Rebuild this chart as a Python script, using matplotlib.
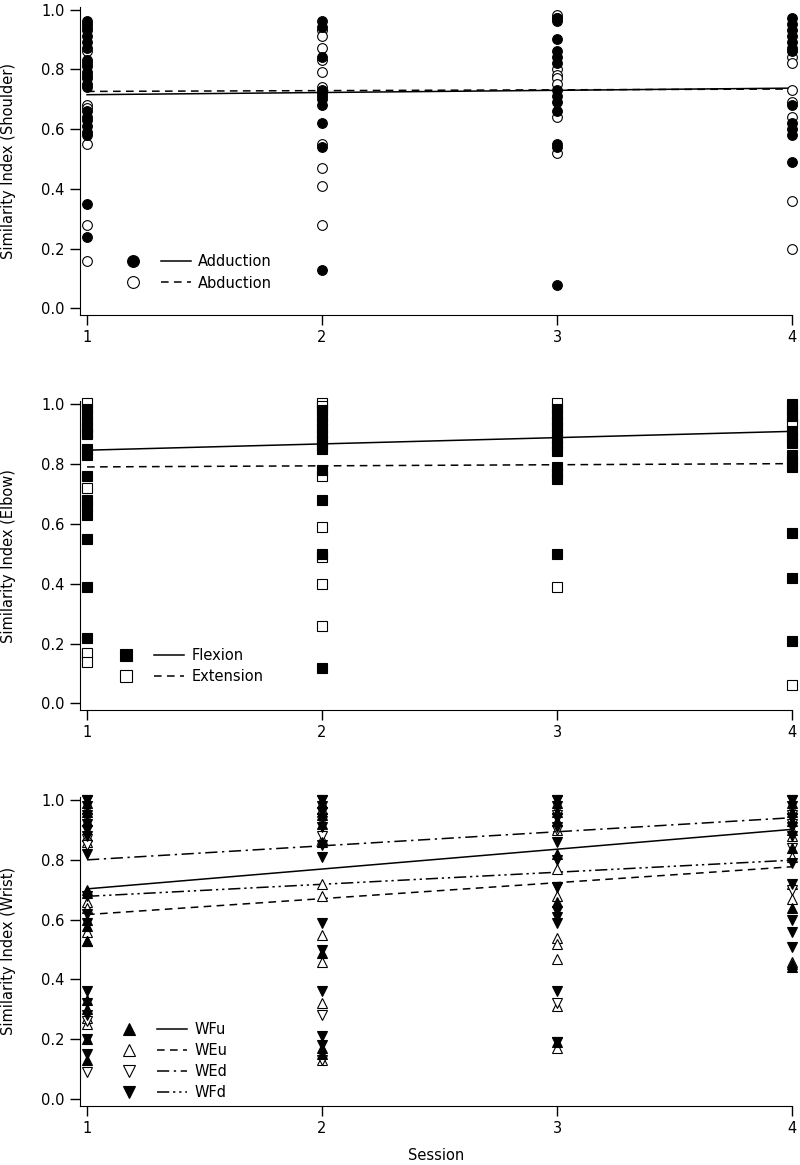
import matplotlib
matplotlib.use("Agg")
import matplotlib.pyplot as plt
from matplotlib.lines import Line2D
from matplotlib.legend_handler import HandlerTuple

plt.rcParams['font.family'] = ['DejaVu Sans']
plt.rcParams['font.size'] = 10

sessions = [1, 2, 3, 4]
fit_x = [1, 4]

# shoulder, one list per session
adduction = [
    [0.96, 0.95, 0.93, 0.91, 0.89, 0.87, 0.83, 0.81, 0.79, 0.77, 0.75, 0.74,
     0.66, 0.64, 0.63, 0.61, 0.59, 0.58, 0.35, 0.24],
    [0.96, 0.94, 0.84, 0.73, 0.72, 0.71, 0.70, 0.68, 0.62, 0.54, 0.13],
    [0.97, 0.96, 0.90, 0.86, 0.84, 0.82, 0.73, 0.71, 0.69, 0.66, 0.55, 0.54, 0.08],
    [0.97, 0.95, 0.93, 0.91, 0.89, 0.87, 0.86, 0.68, 0.62, 0.60, 0.58, 0.49],
]
abduction = [
    [0.94, 0.86, 0.82, 0.78, 0.68, 0.67, 0.55, 0.28, 0.16],
    [0.93, 0.91, 0.87, 0.83, 0.79, 0.74, 0.55, 0.47, 0.41, 0.28],
    [0.98, 0.97, 0.80, 0.78, 0.77, 0.75, 0.64, 0.52],
    [0.84, 0.82, 0.73, 0.69, 0.64, 0.36, 0.20],
]
adduction_fit = [0.715, 0.737]
abduction_fit = [0.726, 0.734]

# elbow
flexion = [
    [0.985, 0.965, 0.945, 0.925, 0.905, 0.90, 0.85, 0.83, 0.76, 0.68, 0.66,
     0.63, 0.55, 0.39, 0.22],
    [0.98, 0.96, 0.94, 0.92, 0.90, 0.88, 0.865, 0.85, 0.78, 0.68, 0.50, 0.12],
    [0.985, 0.965, 0.945, 0.925, 0.905, 0.885, 0.865, 0.845, 0.79, 0.77, 0.75, 0.50],
    [1.0, 0.98, 0.96, 0.91, 0.89, 0.87, 0.83, 0.81, 0.79, 0.57, 0.42, 0.21],
]
extension = [
    [1.005, 0.72, 0.17, 0.14],
    [1.005, 0.995, 0.76, 0.59, 0.49, 0.40, 0.26],
    [1.005, 0.39],
    [0.94, 0.06],
]
flexion_fit = [0.847, 0.910]
extension_fit = [0.791, 0.802]

# wrist
wfu = [
    [0.99, 0.96, 0.93, 0.70, 0.69, 0.60, 0.58, 0.53, 0.33, 0.30, 0.20, 0.13],
    [0.99, 0.95, 0.92, 0.86, 0.49, 0.17, 0.15],
    [0.99, 0.96, 0.93, 0.82, 0.66, 0.19],
    [0.99, 0.96, 0.93, 0.84, 0.64, 0.45, 0.44],
]
weu = [
    [0.97, 0.88, 0.86, 0.66, 0.64, 0.56, 0.53, 0.27, 0.25],
    [0.97, 0.87, 0.72, 0.68, 0.55, 0.46, 0.32, 0.13],
    [0.97, 0.90, 0.77, 0.68, 0.54, 0.52, 0.47, 0.31, 0.17],
    [0.97, 0.90, 0.88, 0.81, 0.72, 0.67, 0.46],
]
wed = [
    [1.0, 0.94, 0.87, 0.85, 0.26, 0.09],
    [1.0, 0.93, 0.88, 0.28, 0.13],
    [1.0, 0.95, 0.90, 0.71, 0.32, 0.19],
    [1.0, 0.95, 0.92, 0.84, 0.70],
]
wfd = [
    [1.0, 0.98, 0.95, 0.92, 0.90, 0.88, 0.82, 0.68, 0.62, 0.59, 0.36, 0.32,
     0.28, 0.20, 0.15],
    [1.0, 0.98, 0.96, 0.94, 0.91, 0.85, 0.81, 0.59, 0.50, 0.36, 0.21, 0.18],
    [1.0, 0.98, 0.94, 0.91, 0.86, 0.80, 0.71, 0.63, 0.61, 0.59, 0.36, 0.19],
    [1.0, 0.98, 0.94, 0.91, 0.88, 0.79, 0.72, 0.60, 0.56, 0.51],
]
wfu_fit = [0.703, 0.902]
weu_fit = [0.617, 0.777]
wed_fit = [0.800, 0.941]
wfd_fit = [0.678, 0.799]

DASH = (0, (5, 3.5))
DASHDOT = (0, (8, 3, 1.5, 3))
DASHDOTDOT = (0, (8, 2.5, 1.5, 2.5, 1.5, 2.5))


def scatter_sessions(ax, data, marker, filled, ms):
    xs, ys = [], []
    for s, vals in zip(sessions, data):
        xs += [s] * len(vals)
        ys += vals
    ax.plot(xs, ys, linestyle='none', marker=marker, markersize=ms,
            markerfacecolor='black' if filled else 'white',
            markeredgecolor='black', markeredgewidth=0.8, clip_on=False, zorder=3)


def style_axes(ax, ylabel):
    ax.set_xlim(0.97, 4.0)
    ax.set_ylim(-0.022, 1.01)
    ax.set_xticks(sessions)
    ax.set_yticks([0.0, 0.2, 0.4, 0.6, 0.8, 1.0])
    ax.set_yticklabels(['0.0', '0.2', '0.4', '0.6', '0.8', '1.0'])
    ax.spines['top'].set_visible(False)
    ax.spines['right'].set_visible(False)
    ax.tick_params(direction='out', length=7, width=1, labelsize=10.5, pad=4)
    ax.set_ylabel(ylabel, fontsize=10.5)
    ax.yaxis.set_label_coords(-0.09, 0.5)


def add_legend(ax, entries, x, y):
    handles, labels = [], []
    for marker, filled, ms, ls, label in entries:
        m = Line2D([], [], linestyle='none', marker=marker, markersize=ms + 1.5,
                   markerfacecolor='black' if filled else 'white',
                   markeredgecolor='black', markeredgewidth=0.8)
        l = Line2D([], [], color='black', linewidth=1.1, linestyle=ls)
        handles.append((m, l))
        labels.append(label)
    ax.legend(handles, labels, handler_map={tuple: HandlerTuple(ndivide=None, pad=0.9)},
              loc='center left', bbox_to_anchor=(x, y), frameon=False,
              handlelength=5.0, handletextpad=0.5, borderpad=0, borderaxespad=0,
              labelspacing=0.42, numpoints=1, fontsize=10.5)


fig = plt.figure(figsize=(8, 11.65), dpi=100)
ax1 = fig.add_axes([0.1, 0.7296, 0.89, 0.2648])
ax2 = fig.add_axes([0.1, 0.3906, 0.89, 0.2648])
ax3 = fig.add_axes([0.1, 0.0510, 0.89, 0.2648])

# shoulder
scatter_sessions(ax1, abduction, 'o', False, 7)
scatter_sessions(ax1, adduction, 'o', True, 7)
ax1.plot(fit_x, adduction_fit, color='black', linewidth=1.1)
ax1.plot(fit_x, abduction_fit, color='black', linewidth=1.1, linestyle=DASH)
style_axes(ax1, 'Similarity Index (Shoulder)')
add_legend(ax1, [('o', True, 7, '-', 'Adduction'),
                 ('o', False, 7, DASH, 'Abduction')], 0.053, 0.138)

# elbow
scatter_sessions(ax2, extension, 's', False, 6.5)
scatter_sessions(ax2, flexion, 's', True, 6.5)
ax2.plot(fit_x, flexion_fit, color='black', linewidth=1.1)
ax2.plot(fit_x, extension_fit, color='black', linewidth=1.1, linestyle=DASH)
style_axes(ax2, 'Similarity Index (Elbow)')
add_legend(ax2, [('s', True, 6.5, '-', 'Flexion'),
                 ('s', False, 6.5, DASH, 'Extension')], 0.0435, 0.143)

# wrist
scatter_sessions(ax3, weu, '^', False, 7.5)
scatter_sessions(ax3, wed, 'v', False, 7.5)
scatter_sessions(ax3, wfu, '^', True, 7.5)
scatter_sessions(ax3, wfd, 'v', True, 7.5)
ax3.plot(fit_x, wfu_fit, color='black', linewidth=1.1)
ax3.plot(fit_x, weu_fit, color='black', linewidth=1.1, linestyle=DASH)
ax3.plot(fit_x, wed_fit, color='black', linewidth=1.1, linestyle=DASHDOT)
ax3.plot(fit_x, wfd_fit, color='black', linewidth=1.1, linestyle=DASHDOTDOT)
style_axes(ax3, 'Similarity Index (Wrist)')
ax3.set_xlabel('Session', fontsize=10.5, labelpad=9)
add_legend(ax3, [('^', True, 7.5, '-', 'WFu'),
                 ('^', False, 7.5, DASH, 'WEu'),
                 ('v', False, 7.5, DASHDOT, 'WEd'),
                 ('v', True, 7.5, DASHDOTDOT, 'WFd')], 0.048, 0.145)

fig.savefig('out.png', dpi=100)
